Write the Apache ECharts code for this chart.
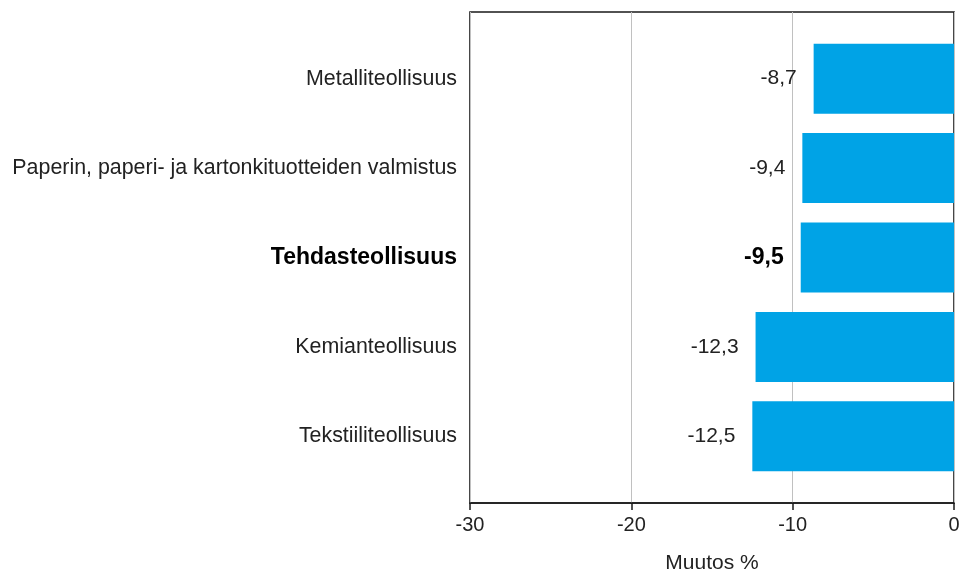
<!DOCTYPE html>
<html><head><meta charset="utf-8">
<script src="https://cdn.jsdelivr.net/npm/echarts@6/dist/echarts.min.js"></script>
<style>html,body{margin:0;padding:0;background:#fff;overflow:hidden}#c{width:959px;height:573px}</style>
</head><body><div id="c"></div>
<script>
const categories = ["Metalliteollisuus","Paperin, paperi- ja kartonkituotteiden valmistus","Tehdasteollisuus","Kemianteollisuus","Tekstiiliteollisuus"];
const values = [-8.7, -9.4, -9.5, -12.3, -12.5];
const boldCategory = "Tehdasteollisuus";
const xTicks = [-30, -20, -10, 0];
const axisName = "Muutos %";

const font = "Liberation Sans, Arial, sans-serif";
const chart = echarts.init(document.getElementById('c'));
chart.setOption({
  animation: false,
  grid: [
    {left: 470, right: 5, top: 34, bottom: 92, outerBoundsMode: 'none', containLabel: false},
    {left: 470, right: 5, top: 12, bottom: 70, outerBoundsMode: 'none', containLabel: false,
     show: true, borderColor: '#1a1a1a', borderWidth: 1.6}
  ],
  xAxis: [
    {gridIndex: 0, type: 'value', min: xTicks[0], max: xTicks[xTicks.length-1], interval: 10,
     axisLine: {show: false}, axisTick: {show: false}, axisLabel: {show: false}, splitLine: {show: false}},
    {gridIndex: 1, type: 'value', min: xTicks[0], max: xTicks[xTicks.length-1], interval: 10,
     axisLine: {show: true, lineStyle: {color: '#1a1a1a', width: 1.6}},
     axisTick: {show: true, length: 7, lineStyle: {color: '#1a1a1a', width: 1.5}},
     axisLabel: {fontFamily: font, fontSize: 20, color: '#222', margin: 12},
     splitLine: {show: true, lineStyle: {color: '#c0c0c0', width: 1}},
     name: axisName, nameLocation: 'middle', nameGap: 50,
     nameTextStyle: {fontFamily: font, fontSize: 21, color: '#222', letterSpacing: 1}}
  ],
  yAxis: [
    {gridIndex: 0, type: 'category', data: categories, inverse: true,
     axisLine: {show: false}, axisTick: {show: false},
     axisLabel: {margin: 13, fontFamily: font, fontSize: 21.4, color: '#222',
       formatter: v => v === boldCategory ? '{b|' + v + '}' : v,
       rich: {b: {fontFamily: font, fontSize: 23, fontWeight: 'bold', color: '#000'}}}},
    {gridIndex: 1, type: 'category', data: categories, show: false}
  ],
  series: [{
    type: 'bar', xAxisIndex: 0, yAxisIndex: 0, barWidth: 70,
    data: values.map((v, i) => ({
      value: v,
      label: categories[i] === boldCategory ? {fontWeight: 'bold', fontSize: 23, color: '#000'} : {}
    })),
    itemStyle: {color: '#00a3e6'},
    label: {show: true, position: 'left', distance: 17, fontFamily: font, fontSize: 21, color: '#222',
      formatter: p => String(p.value).replace('.', ',')}
  }]
});
</script></body></html>
